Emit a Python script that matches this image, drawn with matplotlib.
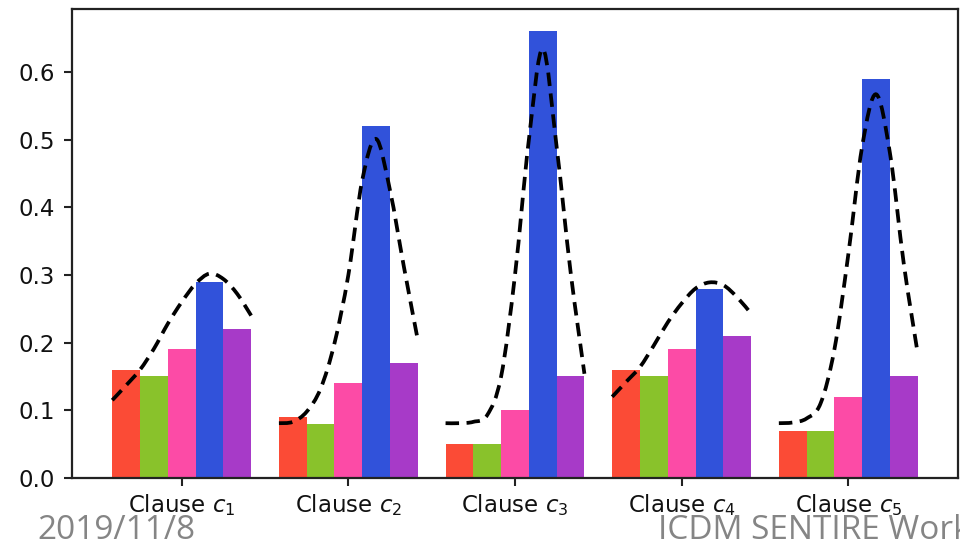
import numpy as np
import matplotlib
matplotlib.use("Agg")
import matplotlib.pyplot as plt
from matplotlib.path import Path
from matplotlib.patches import PathPatch

# ---------------- data ----------------
clauses = ["Clause $c_1$", "Clause $c_2$", "Clause $c_3$", "Clause $c_4$", "Clause $c_5$"]
red_vals = [0.16, 0.09, 0.05, 0.16, 0.07]
green_vals = [0.15, 0.08, 0.05, 0.15, 0.07]
pink_vals = [0.19, 0.14, 0.10, 0.19, 0.12]
blue_vals = [0.29, 0.52, 0.66, 0.28, 0.59]
purple_vals = [0.22, 0.17, 0.15, 0.21, 0.15]

# dashed curve samples: offsets in bar widths from blue bar centre
curve_offsets = [-3.5, -3.0, -2.5, -2.0, -1.5, -1.0, -0.5, 0.0, 0.5, 1.0, 1.5]
curve_c1 = [0.115, 0.137, 0.160, 0.191, 0.228, 0.260, 0.287, 0.302, 0.294, 0.272, 0.240]
curve_c2 = [0.081, 0.083, 0.098, 0.132, 0.199, 0.300, 0.440, 0.501, 0.425, 0.312, 0.204]
curve_c3 = [0.081, 0.081, 0.083, 0.093, 0.150, 0.300, 0.500, 0.634, 0.489, 0.305, 0.154]
curve_c4 = [0.120, 0.142, 0.164, 0.196, 0.230, 0.258, 0.280, 0.289, 0.285, 0.267, 0.243]
curve_c5 = [0.081, 0.082, 0.088, 0.110, 0.190, 0.330, 0.490, 0.567, 0.480, 0.316, 0.184]

colors = ["#fb4b36", "#89c22b", "#fc4ba6", "#3152da", "#a73ac8"]
series = [red_vals, green_vals, pink_vals, blue_vals, purple_vals]
curves = [curve_c1, curve_c2, curve_c3, curve_c4, curve_c5]

# ---------------- figure ----------------
W, H = 960, 545
fig = plt.figure(figsize=(W / 100, H / 100), dpi=100)
ax = fig.add_axes([72 / W, 67 / H, (958 - 72) / W, (536 - 67) / H])

x = np.arange(len(clauses))
bw = 1 / 6
for i, (vals, c) in enumerate(zip(series, colors)):
    ax.bar(x + (i - 2) * bw, vals, width=bw, color=c, linewidth=0, zorder=2)


def smooth_path(xs, ys):
    pts = np.column_stack([xs, ys])
    ext = np.vstack([pts[0], pts, pts[-1]])
    verts = [pts[0]]
    codes = [Path.MOVETO]
    for k in range(len(pts) - 1):
        p0, p1, p2, p3 = ext[k], ext[k + 1], ext[k + 2], ext[k + 3]
        c1 = p1 + (p2 - p0) / 6
        c2 = p2 - (p3 - p1) / 6
        verts += [c1, c2, p2]
        codes += [Path.CURVE4] * 3
    return Path(np.array(verts), codes)


offs = np.array(curve_offsets)
for g, cv in enumerate(curves):
    xs = x[g] + bw + offs * bw
    patch = PathPatch(smooth_path(xs, cv), fill=False, edgecolor="black",
                      linewidth=2.7, linestyle=(0, (3.6, 2.0)), zorder=3)
    ax.add_patch(patch)

ax.set_xlim(-2.5 * bw - 0.2417, 4 + 2.5 * bw + 0.2417)
ax.set_ylim(0, 0.693)
ax.set_xticks(x)
ax.set_xticklabels(clauses)
ax.set_yticks([0.0, 0.1, 0.2, 0.3, 0.4, 0.5, 0.6])
ax.set_yticklabels(["0.0", "0.1", "0.2", "0.3", "0.4", "0.5", "0.6"])
ax.tick_params(axis="both", labelsize=16.5, length=6, width=1.5, color="#222222",
               labelcolor="#111111")
ax.tick_params(axis="y", pad=6)
ax.tick_params(axis="x", pad=4)
for s in ax.spines.values():
    s.set_linewidth(1.6)
    s.set_color("#222222")

fig.text(37 / W, 1 - 539 / H, "2019/11/8", fontsize=24, color="#858585",
         family="Open Sans", va="baseline", ha="left")
fig.text(658 / W, 1 - 539 / H, "ICDM SENTIRE Workshop", fontsize=24, color="#858585",
         family="Open Sans", va="baseline", ha="left")

fig.savefig("out.png", dpi=100)
